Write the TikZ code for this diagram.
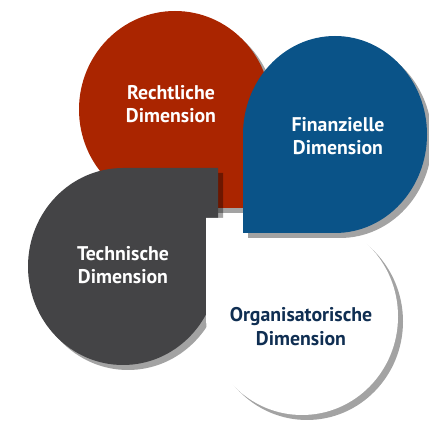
\documentclass[tikz,border=0pt]{standalone}
\usepackage{fontspec}
\setmainfont{PT Sans}
\usetikzlibrary{shadows}
\definecolor{dimred}{HTML}{AA2500}
\definecolor{dimblue}{HTML}{0A5388}
\definecolor{dimgray}{HTML}{444446}
\definecolor{dimnavy}{HTML}{0F2E52}
\tikzset{
  petal/.style={drop shadow={shadow xshift=5pt, shadow yshift=-5pt, opacity=0.36, fill=black}},
  label/.style={align=center, font=\fontsize{19.8}{23.5}\selectfont\bfseries, inner sep=0pt}
}
\begin{document}
\begin{tikzpicture}[x=1pt,y=1pt]
\useasboundingbox (0,0) rectangle (429,426);
% red (corner bottom-right)
\path[petal, fill=dimred] (271,316.5) arc[start angle=0, end angle=270, x radius=96, y radius=98.5] -- (271,218) -- cycle;
% gray (corner top-right)
\path[petal, fill=dimgray] (123,258) arc[start angle=90, end angle=360, x radius=95, y radius=98.5] -- (218,258) -- cycle;
% white (corner top-left)
\path[petal, fill=white] (206,109.5) arc[start angle=180, end angle=450, x radius=96, y radius=98.5] -- (206,208) -- cycle;
% blue (corner bottom-left)
\path[petal, fill=dimblue] (335,193) arc[start angle=-90, end angle=180, x radius=92, y radius=98.5] -- (243,193) -- cycle;
\node[label, text=white] (recht) at (171,322) {Rechtliche\\Dimension};
\node[label, text=white] (finanz) at (338,290) {Finanzielle\\Dimension};
\node[label, text=white] (tech) at (123,161) {Technische\\Dimension};
\node[label, text=dimnavy] (orga) at (301,99.5) {Organisatorische\\Dimension};
\end{tikzpicture}
\end{document}
